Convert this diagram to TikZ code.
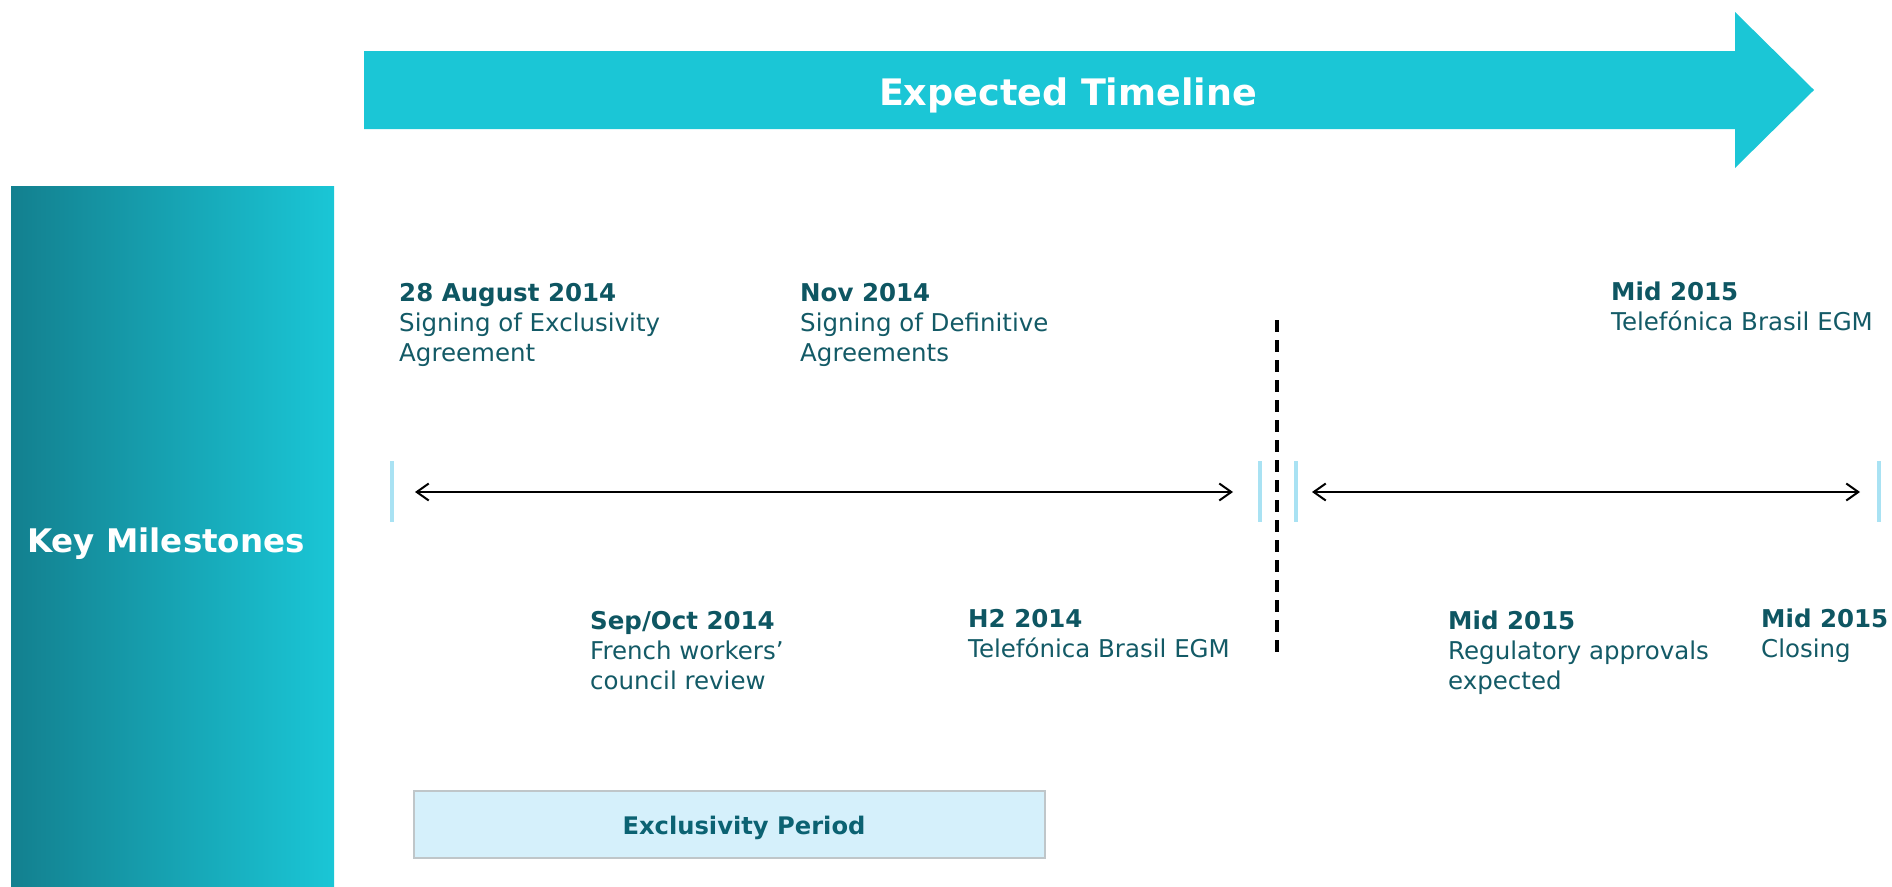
\documentclass[tikz,border=0pt]{standalone}
\usepackage{fontspec}
\setmainfont{DejaVu Sans}
\usetikzlibrary{arrows.meta}
\definecolor{bigarrow}{HTML}{1BC6D6}
\definecolor{gradleft}{HTML}{13808F}
\definecolor{gradright}{HTML}{1AC6D6}
\definecolor{txt}{HTML}{135A66}
\definecolor{txtbold}{HTML}{0E5662}
\definecolor{tickblue}{HTML}{A9E2F3}
\definecolor{boxfill}{HTML}{D5F0FB}
\definecolor{boxline}{HTML}{BFC6C9}
\definecolor{boxtxt}{HTML}{0B6272}
\tikzset{
  milestone/.style={anchor=north west, inner sep=0pt, align=left, text=txt,
    font=\fontsize{24.5}{30}\selectfont},
  tickmark/.style={draw=tickblue, line width=4.5pt},
  span/.style={draw=black, line width=2.2pt,
    {Straight Barb[length=12pt,width=17pt,line width=2pt]}-{Straight Barb[length=12pt,width=17pt,line width=2pt]}},
  divider/.style={draw=black, line width=4.3pt, dash pattern=on 12pt off 8pt},
}
\newcommand{\mhead}[1]{\textcolor{txtbold}{\bfseries #1}}
\begin{document}
\begin{tikzpicture}[x=1pt,y=-1pt]
\useasboundingbox (0,0) rectangle (1892,886);
% big timeline arrow
\fill[bigarrow] (364,51) -- (1735,51) -- (1735,12) -- (1814,90) -- (1735,168) -- (1735,129) -- (364,129) -- cycle;
\node[anchor=base, inner sep=0pt, text=white, font=\fontsize{36.5}{40}\selectfont\bfseries] (title) at (1068,105) {Expected Timeline};
% left gradient box
\shade[left color=gradleft, right color=gradright] (11,186) rectangle (334,886);
\node[anchor=base, inner sep=0pt, text=white, font=\fontsize{32.5}{36}\selectfont\bfseries] (key) at (166,552) {Key Milestones};
% milestones above
\node[milestone] (m1) at (399,283) {\mhead{28 August 2014}\\Signing of Exclusivity\\Agreement};
\node[milestone] (m2) at (800,283) {\mhead{Nov 2014}\\Signing of Definitive\\Agreements};
\node[milestone] (m3) at (1611,282) {\mhead{Mid 2015}\\Telefónica Brasil EGM};
% milestones below
\node[milestone] (m4) at (590,611) {\mhead{Sep/Oct 2014}\\French workers’\\council review};
\node[milestone] (m5) at (968,609) {\mhead{H2 2014}\\Telefónica Brasil EGM};
\node[milestone] (m6) at (1448,611) {\mhead{Mid 2015}\\Regulatory approvals\\expected};
\node[milestone] (m7) at (1761,609) {\mhead{Mid 2015}\\Closing};
% ticks
\draw[tickmark] (392,461) -- (392,522);
\draw[tickmark] (1260,461) -- (1260,522);
\draw[tickmark] (1296,461) -- (1296,522);
\draw[tickmark] (1879,461) -- (1879,522);
% dashed divider
\coordinate (dtop) at (1277,320);
\coordinate (dbot) at (1277,652);
\draw[divider] (dtop) -- (dbot);
% spans
\coordinate (a1) at (415,492);
\coordinate (a2) at (1233,492);
\coordinate (b1) at (1312,492);
\coordinate (b2) at (1860,492);
\draw[span] (a1) -- (a2);
\draw[span] (b1) -- (b2);
% exclusivity box
\draw[fill=boxfill, draw=boxline, line width=1.5pt] (414,791) rectangle (1045,858);
\node[anchor=base, inner sep=0pt, text=boxtxt, font=\fontsize{24.2}{28}\selectfont\bfseries] (excl) at (744,834) {Exclusivity Period};
\end{tikzpicture}
\end{document}
